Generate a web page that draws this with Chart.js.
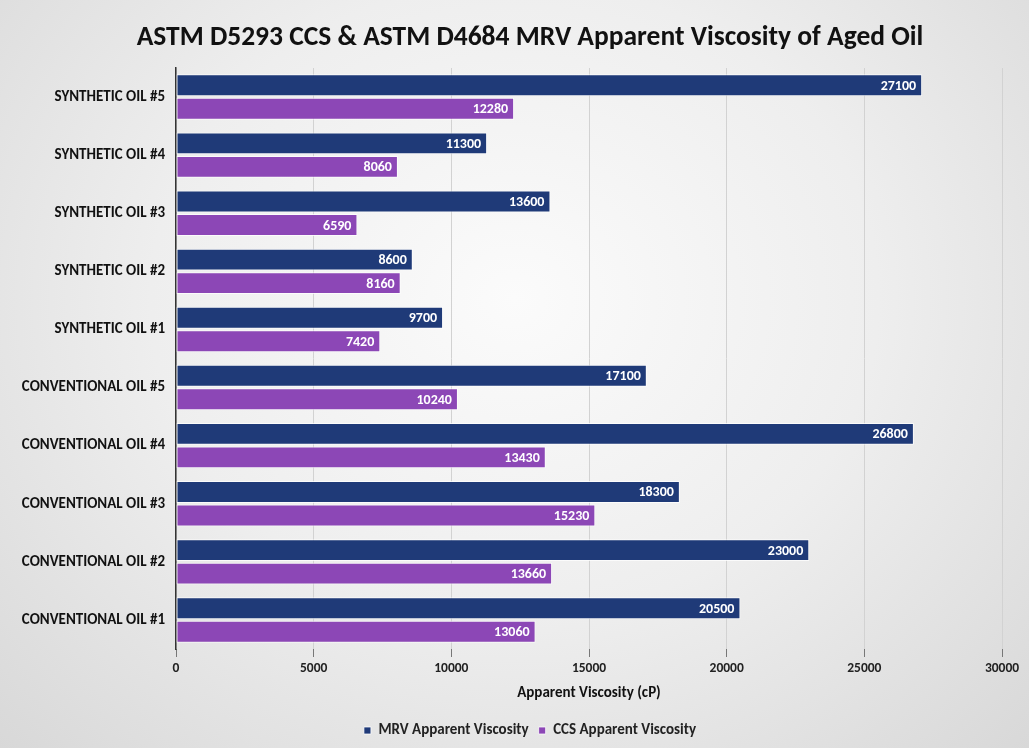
<!DOCTYPE html>
<html>
<head>
  <meta charset="UTF-8">
  <title>Apparent Viscosity of Aged Oil</title>
  <script src="https://cdn.jsdelivr.net/npm/chart.js"></script>
  <style>
    html, body { margin: 0; padding: 0; }
    body {
      width: 1029px; height: 748px; overflow: hidden;
      background: radial-gradient(ellipse at 50% 40%, #fbfbfb 0%, #eeeeee 50%, #d8d8d8 100%);
    }
    #wrap { position: relative; width: 1029px; height: 748px; }
  </style>
</head>
<body>
  <div id="wrap"><canvas id="chart"></canvas></div>

  <script>
    const categories = [
      'SYNTHETIC OIL #5', 'SYNTHETIC OIL #4', 'SYNTHETIC OIL #3', 'SYNTHETIC OIL #2', 'SYNTHETIC OIL #1',
      'CONVENTIONAL OIL #5', 'CONVENTIONAL OIL #4', 'CONVENTIONAL OIL #3', 'CONVENTIONAL OIL #2', 'CONVENTIONAL OIL #1'
    ];
    const mrvValues = [27100, 11300, 13600, 8600, 9700, 17100, 26800, 18300, 23000, 20500];
    const ccsValues = [12280, 8060, 6590, 8160, 7420, 10240, 13430, 15230, 13660, 13060];
    const xTicks = [0, 5000, 10000, 15000, 20000, 25000, 30000];

    const FONT = 'Carlito, Calibri, "Liberation Sans Narrow", Lato, sans-serif';

    // white value labels at the inner end of each bar
    const barLabels = {
      id: 'barLabels',
      afterDatasetsDraw(chart) {
        const ctx = chart.ctx;
        ctx.save();
        ctx.font = 'bold 14px ' + FONT;
        ctx.fillStyle = '#ffffff';
        ctx.textAlign = 'right';
        ctx.textBaseline = 'middle';
        chart.data.datasets.forEach((ds, i) => {
          chart.getDatasetMeta(i).data.forEach((bar, j) => {
            ctx.fillText(String(ds.data[j]), bar.x - 6, bar.y + 1);
          });
        });
        ctx.restore();
      }
    };

    // the original centres title and legend a bit right of the canvas middle
    const shiftBlocks = {
      id: 'shiftBlocks',
      afterLayout(chart) {
        [chart.titleBlock, chart.legend].forEach(b => { if (b) b.left += 52; });
      }
    };

    new Chart(document.getElementById('chart'), {
      type: 'bar',
      data: {
        labels: categories,
        datasets: [
          { label: 'MRV Apparent Viscosity', data: mrvValues, backgroundColor: '#1f3a78',
            borderColor: 'rgba(255,255,255,0.75)', borderWidth: 1, borderSkipped: false,
            barPercentage: 0.93, categoryPercentage: 0.81 },
          { label: 'CCS Apparent Viscosity', data: ccsValues, backgroundColor: '#8c47b6',
            borderColor: 'rgba(255,255,255,0.75)', borderWidth: 1, borderSkipped: false,
            barPercentage: 0.93, categoryPercentage: 0.81 }
        ]
      },
      options: {
        indexAxis: 'y',
        responsive: true,
        maintainAspectRatio: false,
        animation: false,
        layout: { padding: { left: 6, right: 27, top: 0, bottom: 0 } },
        plugins: {
          title: {
            display: true,
            text: 'ASTM D5293 CCS & ASTM D4684 MRV Apparent Viscosity of Aged Oil',
            color: '#111',
            font: { family: FONT, size: 27.5, weight: 'bold' },
            padding: { top: 22, bottom: 13 }
          },
          legend: {
            position: 'bottom',
            labels: {
              color: '#222',
              font: { family: FONT, size: 15, weight: 'bold' },
              boxWidth: 7, boxHeight: 7, padding: 10
            }
          },
          tooltip: { enabled: false }
        },
        scales: {
          x: {
            min: 0, max: 30000,
            afterBuildTicks: s => { s.ticks = xTicks.map(v => ({ value: v })); },
            afterFit: s => { s.height = 64; },
            grid: { color: '#d2d2d2', tickColor: '#777', tickLength: 8, lineWidth: 1 },
            border: { display: false },
            ticks: {
              color: '#222', padding: 4,
              font: { family: FONT, size: 13.5, weight: 'bold' },
              callback: v => String(v)
            },
            title: {
              display: true, text: 'Apparent Viscosity (cP)', color: '#111',
              font: { family: FONT, size: 15, weight: 'bold' },
              padding: { top: 4, bottom: 11 }
            }
          },
          y: {
            afterFit: s => { s.width = 170; },
            grid: { display: false },
            border: { display: true, color: '#333', width: 1.5 },
            ticks: { color: '#111', padding: 3, font: { family: FONT, size: 15, weight: 'bold' } }
          }
        }
      },
      plugins: [barLabels, shiftBlocks]
    });
  </script>
</body>
</html>
